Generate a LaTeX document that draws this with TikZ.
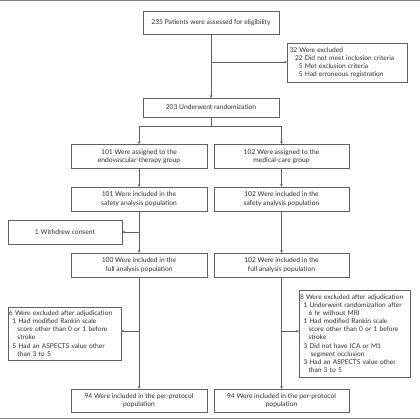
\documentclass[tikz,border=0pt]{standalone}
\usepackage{fontspec}
\setmainfont{Lato}
\usetikzlibrary{arrows.meta}
\definecolor{ln}{HTML}{606060}
\definecolor{tx}{HTML}{2A2A2A}
\definecolor{rule}{HTML}{8A8A8A}
\newcommand{\nohyphfont}{\fontsize{6.6}{8.1}\selectfont\hyphenpenalty=10000\relax}
\begin{document}
\begin{tikzpicture}[x=1pt,y=-1pt,
  every node/.style={inner sep=0pt,outer sep=0pt},
  boxc/.style={draw=ln,line width=0.6pt,text=tx,font=\fontsize{6.7}{8.6}\selectfont,align=center},
  boxl/.style={draw=ln,line width=0.6pt,text=tx,font=\nohyphfont,align=left,anchor=north west},
  conn/.style={draw=ln,line width=0.6pt},
  arr/.style={conn,-{Stealth[length=3pt,width=2.6pt]}}]
\useasboundingbox (0,0) rectangle (420,420);
\fill[rule] (0,0) rectangle (420,1.3);
\fill[rule] (0,418) rectangle (420,419.2);
% boxes
\node[boxc,minimum width=136pt,minimum height=23pt] (top) at (211,22.5) {235 Patients were assessed for eligibility};
\node[boxl,minimum width=120pt,minimum height=39pt,text width=118pt] (exc) at (287,43) {\hspace*{1.5pt}32 Were excluded\\
\hspace*{7pt}22 Did not meet inclusion criteria\\
\hspace*{7pt}\phantom{2}5 Met exclusion criteria\\
\hspace*{7pt}\phantom{2}5 Had erroneous registration};
\node[boxc,minimum width=136pt,minimum height=19pt] (rand) at (211,107.5) {203 Underwent randomization};
\node[boxc,minimum width=136pt,minimum height=24.5pt] (asL) at (139,156.5) {101 Were assigned to the\\endovascular-therapy group};
\node[boxc,minimum width=135pt,minimum height=24.5pt] (asR) at (281.5,156.5) {102 Were assigned to the\\medical-care group};
\node[boxc,minimum width=136pt,minimum height=24pt] (saL) at (139,199) {101 Were included in the\\safety analysis population};
\node[boxc,minimum width=135pt,minimum height=24pt] (saR) at (281.5,199) {102 Were included in the\\safety analysis population};
\node[boxc,minimum width=114pt,minimum height=24pt] (wd) at (65,232) {1 Withdrew consent};
\node[boxc,minimum width=136pt,minimum height=24pt] (fuL) at (139,265) {100 Were included in the\\full analysis population};
\node[boxc,minimum width=135pt,minimum height=24pt] (fuR) at (281.5,265) {102 Were included in the\\full analysis population};
\node[boxl,minimum width=113pt,minimum height=53pt,text width=112pt] (exL) at (8,307) {\hspace*{0.5pt}6 Were excluded after adjudication\\
\hspace*{4pt}1 Had modified Rankin scale\\
\hspace*{9pt}score other than 0 or 1 before\\
\hspace*{9pt}stroke\\
\hspace*{4pt}5 Had an ASPECTS value other\\
\hspace*{9pt}than 3 to 5};
\node[boxl,minimum width=111pt,minimum height=87pt,text width=110pt] (exR) at (299,290) {\hspace*{0.5pt}8 Were excluded after adjudication\\
\hspace*{4pt}1 Underwent randomization after\\
\hspace*{9pt}6 hr without MRI\\
\hspace*{4pt}1 Had modified Rankin scale\\
\hspace*{9pt}score other than 0 or 1 before\\
\hspace*{9pt}stroke\\
\hspace*{4pt}3 Did not have ICA or M1\\
\hspace*{11pt}segment occlusion\\
\hspace*{4pt}3 Had an ASPECTS value other\\
\hspace*{9pt}than 3 to 5};
\node[boxc,minimum width=136pt,minimum height=23pt] (ppL) at (139,400.5) {94 Were included in the per-protocol\\population};
\node[boxc,minimum width=135pt,minimum height=23pt] (ppR) at (281.5,400.5) {94 Were included in the per-protocol\\population};
% connectors
\coordinate (b1) at (top.south |- 0,62);
\draw[arr] (top.south) -- (rand.north);
\draw[arr] (b1) -- (exc.west |- b1);
\coordinate (sp) at (rand.south |- 0,126);
\coordinate (spL) at (asL.north |- sp);
\coordinate (spR) at (asR.north |- sp);
\draw[conn] (rand.south) -- (sp);
\draw[conn] (spL) -- (spR);
\draw[arr] (spL) -- (asL.north);
\draw[arr] (spR) -- (asR.north);
\draw[arr] (asL) -- (saL);
\draw[arr] (asR) -- (saR);
\draw[arr] (saL) -- (fuL);
\draw[arr] (saR) -- (fuR);
\coordinate (b2) at (saL.south |- wd.east);
\draw[arr] (b2) -- (wd.east);
\draw[arr] (fuL) -- (ppL);
\draw[arr] (fuR) -- (ppR);
\coordinate (b3) at (fuL.south |- 0,331);
\coordinate (b4) at (fuR.south |- 0,331);
\draw[arr] (b3) -- (exL.east |- b3);
\draw[arr] (b4) -- (exR.west |- b4);
\end{tikzpicture}
\end{document}
